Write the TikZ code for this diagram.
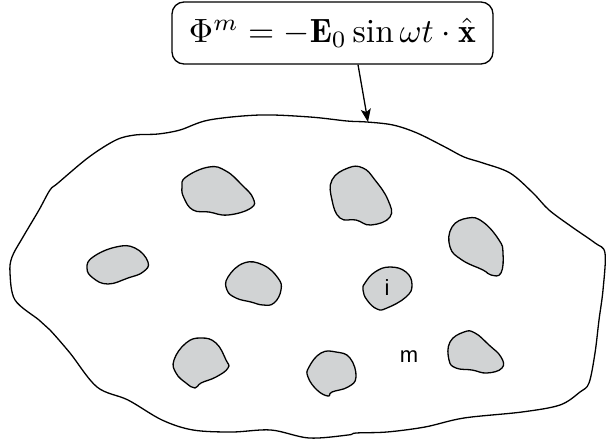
\documentclass[tikz,border=0pt]{standalone}
\usepackage{fontspec}
\newfontfamily\labelsans{Liberation Sans}
\usetikzlibrary{arrows.meta}
\definecolor{blobgray}{RGB}{209,211,212}
\begin{document}
\begin{tikzpicture}[x=1pt,y=-1pt,
  outline/.style={line width=1.3pt,line join=round},
  blob/.style={line width=1.3pt,fill=blobgray,draw=black,line join=round},
  eqbox/.style={draw,line width=1.3pt,rounded corners=12pt,minimum width=321pt,minimum height=62pt,inner sep=0pt},
  lbl/.style={font=\labelsans\fontsize{22}{26}\selectfont,inner sep=0pt}]
\useasboundingbox (0,0) rectangle (606,445);
% outline of the medium
\draw[outline] plot[smooth cycle,tension=0.55] coordinates {
 (209,120) (260,115) (310,117) (347,121) (367,122) (393,125) (417,133) (445,147) (464,157) (483,163) (510,173)
 (533,193) (549,210) (572,227) (595,243) (605,253) (603,290) (599,320) (595,353) (589,383) (580,392) (560,405)
 (522,412) (464,418) (425,427) (387,432) (356,433) (348,435) (309,438) (271,430) (232,432) (193,430) (162,420)
 (128,400) (97,387) (70,353) (50,330) (39,320) (15,300) (10,273) (12,257) (23,237) (39,210) (50,190) (58,183)
 (89,157) (116,140) (135,135) (158,134) (180,130)};
\coordinate (top) at (368,122);
% inclusions
\draw[blob] plot[smooth cycle,tension=0.75] coordinates {(186,177) (209,167) (226,171) (242,185) (253,198) (251,208) (228,215) (209,212) (193,210) (184,198) (182,187)};
\draw[blob] plot[smooth cycle,tension=0.75] coordinates {(332,180) (348,168) (363,168) (375,180) (388,200) (390,217) (371,225) (356,220) (340,218) (332,200)};
\draw[blob] plot[smooth cycle,tension=0.75] coordinates {(452,227) (468,218) (483,222) (499,240) (503,253) (501,273) (491,275) (483,270) (462,260) (450,247)};
\draw[blob] plot[smooth cycle,tension=0.75] coordinates {(93,257) (116,247) (135,248) (148,262) (143,272) (128,278) (108,284) (93,278) (87,268)};
\draw[blob] plot[smooth cycle,tension=0.75] coordinates {(228,277) (244,263) (263,265) (278,278) (281,290) (274,303) (263,305) (251,302) (236,298) (227,290)};
\draw[blob] plot[smooth cycle,tension=0.75] coordinates {(365,283) (375,272) (390,267) (406,272) (412,285) (406,297) (387,308) (377,309) (367,300) (363,290)};
\draw[blob] plot[smooth cycle,tension=0.75] coordinates {(174,360) (186,343) (201,338) (216,343) (226,360) (228,368) (216,377) (201,383) (195,388) (186,383) (176,373)};
\draw[blob] plot[smooth cycle,tension=0.75] coordinates {(309,367) (321,353) (336,352) (350,358) (356,377) (348,387) (332,392) (328,396) (317,390) (308,377)};
\draw[blob] plot[smooth cycle,tension=0.75] coordinates {(450,342) (464,332) (475,333) (489,345) (501,357) (502,368) (487,373) (472,370) (456,368) (449,360)};
\node[lbl] (i) at (387,288) {i};
\node[lbl] (m) at (409,357) {m};
% equation box and arrow
\node[eqbox] (eq) at (332.5,33) {\resizebox{287pt}{!}{$\Phi^m = -\mathbf{E}_0\sin\omega t\cdot\hat{\mathbf{x}}$}};
\draw[line width=1.3pt,-{Stealth[length=13pt,width=10pt,inset=3pt]}] (eq.south -| 358,0) -- (top);
\end{tikzpicture}
\end{document}
